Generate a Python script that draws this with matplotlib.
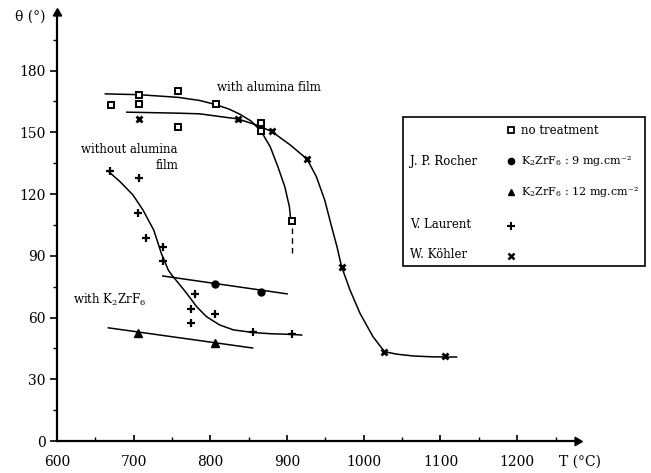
import numpy as np
import matplotlib
matplotlib.use('Agg')
import matplotlib.pyplot as plt
from matplotlib.patches import Rectangle

plt.rcParams['font.family'] = 'DejaVu Serif'
plt.rcParams['mathtext.default'] = 'regular'

# measured points
no_treat_x = [670, 707, 707, 758, 758, 807, 866, 866, 907]
no_treat_y = [163.4, 168, 164, 170, 152.6, 164, 154.6, 150.7, 107]
k9_x = [806, 866]
k9_y = [76.3, 72.4]
k12_x = [706, 806]
k12_y = [52.5, 47.6]
laurent_x = [669, 707, 705, 716, 738, 738, 780, 775, 775, 806, 855, 906]
laurent_y = [131, 128, 111, 98.7, 94.3, 87.5, 71.5, 64, 57.4, 61.7, 53, 52]
kohler_x = [707, 836, 880, 926, 971, 1027, 1106]
kohler_y = [156.5, 156.5, 150.7, 137, 84.6, 43.3, 41.3]

# hand drawn trend curves
curve_alu_x = [663, 707, 758, 786, 807, 825, 839, 853, 866, 878, 888, 897, 903, 905]
curve_alu_y = [168.7, 168.3, 167, 165.5, 163.5, 161.2, 158.7, 155.5, 150.6, 143, 133.3, 123.6, 113.9, 106.5]
curve_koh_x = [691, 707, 760, 786, 836, 860, 880, 904, 926, 938, 949, 958, 965, 971, 982, 995,
               1012, 1027, 1043, 1065, 1090, 1121]
curve_koh_y = [159.8, 159.7, 159.3, 159, 156.5, 153.6, 150.4, 143.9, 137, 128.6, 117.2, 104.2, 94.5, 84.8,
               73.4, 62.1, 50.7, 43.4, 42.2, 41.3, 40.9, 40.8]
curve_lau_x = [667, 682, 699, 712, 726, 731, 736, 741, 745, 750, 756, 769, 782, 795, 812, 830, 856, 880, 906, 919]
curve_lau_y = [131, 126.1, 119.6, 112.3, 102.6, 97, 91.2, 86.8, 83.1, 80.5, 77.8, 71.8, 65.3, 60.4, 56.4, 54, 52.7,
               52.1, 51.8, 51.5]
line_k9_x = [738, 900]
line_k9_y = [80.2, 71.5]
line_k12_x = [667, 855]
line_k12_y = [55, 45.2]
dash_x = [907, 907]
dash_y = [103.5, 90]

xticks = [600, 700, 800, 900, 1000, 1100, 1200]
yticks = [0, 30, 60, 90, 120, 150, 180]

fig = plt.figure(figsize=(6.51, 4.73), dpi=100)
ax = fig.add_axes([57/651, 32/473, 520/651, 428/473])
ax.set_xlim(600, 1278)
ax.set_ylim(0, 208)

lw = 1.1
ax.plot(curve_alu_x, curve_alu_y, 'k-', lw=lw)
ax.plot(curve_koh_x, curve_koh_y, 'k-', lw=lw)
ax.plot(curve_lau_x, curve_lau_y, 'k-', lw=lw)
ax.plot(line_k9_x, line_k9_y, 'k-', lw=lw)
ax.plot(line_k12_x, line_k12_y, 'k-', lw=lw)
ax.plot(dash_x, dash_y, 'k--', lw=1, dashes=(4, 3))

ax.plot(no_treat_x, no_treat_y, 's', ms=5, mfc='white', mec='black', mew=1.4, ls='none')
ax.plot(k9_x, k9_y, 'o', ms=5, color='black', ls='none')
ax.plot(k12_x, k12_y, '^', ms=5.5, color='black', ls='none')
ax.plot(laurent_x, laurent_y, '+', ms=6, mew=1.6, color='black', ls='none')
ax.plot(kohler_x, kohler_y, 'x', ms=5, mew=2, color='black', ls='none')

for s in ['top', 'right']:
    ax.spines[s].set_visible(False)
for s in ['left', 'bottom']:
    ax.spines[s].set_linewidth(1.6)
ax.plot([0], [1], marker=(3, 0, 0), ms=7, color='k', transform=ax.transAxes, clip_on=False)
ax.plot([1], [0], marker=(3, 0, -90), ms=7, color='k', transform=ax.transAxes, clip_on=False)

ax.set_xticks(xticks)
ax.set_yticks(yticks)
ax.set_xticks(np.arange(650, 1260, 100), minor=True)
ax.set_yticks(np.arange(15, 200, 30), minor=True)
ax.tick_params(axis='x', direction='in', length=4, width=1.2, labelsize=10, pad=10)
ax.tick_params(axis='x', which='minor', direction='in', length=3, width=1)
ax.tick_params(axis='y', direction='out', length=5, width=1.2, labelsize=10, pad=3)
ax.tick_params(axis='y', which='minor', direction='out', length=3, width=1)

fig.text(15/651, 1 - 17/473, 'θ (°)', fontsize=10, va='center', ha='left')
fig.text(559/651, 1 - 462/473, 'T (°C)', fontsize=10, va='center', ha='left')

ax.text(809, 172, 'with alumina film', fontsize=8.5, va='center', ha='left')
ax.text(631, 141.5, 'without alumina', fontsize=8.5, va='center', ha='left')
ax.text(758, 134, 'film', fontsize=8.5, va='center', ha='right')
ax.text(621, 68.5, 'with K$_2$ZrF$_6$', fontsize=8.5, va='center', ha='left')

# legend box
fig.patches.append(Rectangle((403/651, 1 - 266/473), 242/651, 149/473,
                             transform=fig.transFigure, fill=False, ec='black', lw=1.2))
def fy(p):
    return 1 - p/473
mx = 511/651
tx = 521/651
nx = 410/651
fig.lines.append(plt.Line2D([mx], [fy(130)], marker='s', ms=4.5, mfc='white', mec='black', mew=1.3, transform=fig.transFigure))
fig.lines.append(plt.Line2D([mx], [fy(161)], marker='o', ms=4.5, color='black', transform=fig.transFigure))
fig.lines.append(plt.Line2D([mx], [fy(192)], marker='^', ms=5, color='black', transform=fig.transFigure))
fig.lines.append(plt.Line2D([mx], [fy(226)], marker='+', ms=5.5, mew=1.5, color='black', transform=fig.transFigure))
fig.lines.append(plt.Line2D([mx], [fy(256)], marker='x', ms=4.5, mew=1.8, color='black', transform=fig.transFigure))
fig.text(tx, fy(130), 'no treatment', fontsize=8.5, va='center')
fig.text(tx, fy(161), 'K$_2$ZrF$_6$ : 9 mg.cm⁻²', fontsize=8, va='center')
fig.text(tx, fy(192), 'K$_2$ZrF$_6$ : 12 mg.cm⁻²', fontsize=8, va='center')
fig.text(nx, fy(161), 'J. P. Rocher', fontsize=8.5, va='center')
fig.text(nx, fy(224), 'V. Laurent', fontsize=8.5, va='center')
fig.text(nx, fy(255), 'W. Köhler', fontsize=8.5, va='center')

fig.savefig('out.png', dpi=100)
